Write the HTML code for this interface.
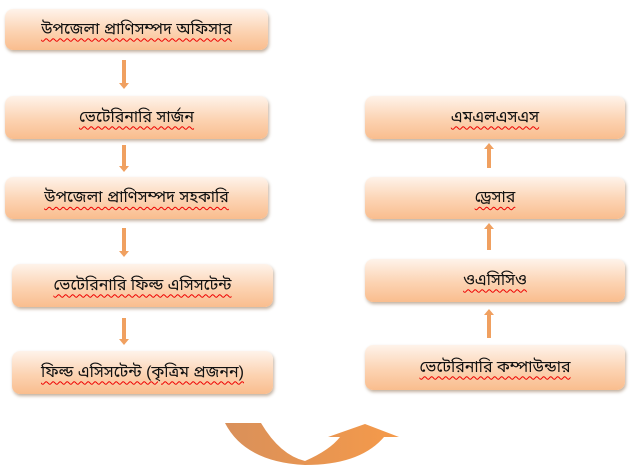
<!DOCTYPE html>
<html><head><meta charset="utf-8"><style>
body{margin:0;width:632px;height:472px;background:#fff;position:relative;overflow:hidden;font-family:"Liberation Sans","Noto Sans Bengali",sans-serif;}
.b{position:absolute;border-radius:8px;background:linear-gradient(180deg,#fef3ea 0%,#fcd3b2 55%,#f9bd8e 100%);box-shadow:1px 2px 3px rgba(120,80,40,.45);display:flex;align-items:center;justify-content:center;font-size:16px;color:#111;}
.b span{text-decoration:underline wavy #e00;text-decoration-thickness:1px;text-underline-offset:4px}
.a{position:absolute;width:4px;background:#f0a060}
.dn:after,.up:after{content:"";position:absolute;left:-3px;border-left:5px solid transparent;border-right:5px solid transparent}
.dn:after{bottom:-5px;border-top:6px solid #f0a060}
.up:after{top:-5px;border-bottom:6px solid #f0a060}
</style></head><body>
<div class="b" style="left:5px;top:9px;width:263px;height:41px"><span>উপজেলা প্রাণিসম্পদ অফিসার</span></div>
<div class="b" style="left:5px;top:96px;width:263px;height:43px"><span>ভেটেরিনারি সার্জন</span></div>
<div class="b" style="left:5px;top:177px;width:263px;height:42px"><span>উপজেলা প্রাণিসম্পদ সহকারি</span></div>
<div class="b" style="left:12px;top:264px;width:261px;height:43px"><span>ভেটেরিনারি ফিল্ড এসিসটেন্ট</span></div>
<div class="b" style="left:12px;top:351px;width:261px;height:43px"><span>ফিল্ড এসিসটেন্ট (কৃত্রিম প্রজনন)</span></div>
<div class="b" style="left:365px;top:96px;width:260px;height:43px"><span>এমএলএসএস</span></div>
<div class="b" style="left:365px;top:177px;width:260px;height:42px"><span>ড্রেসার</span></div>
<div class="b" style="left:365px;top:259px;width:260px;height:43px"><span>ওএসিসিও</span></div>
<div class="b" style="left:365px;top:345px;width:260px;height:45px"><span>ভেটেরিনারি কম্পাউন্ডার</span></div>
<div class="a dn" style="left:122px;top:60px;height:24px"></div>
<div class="a dn" style="left:122px;top:145px;height:22px"></div>
<div class="a dn" style="left:122px;top:228px;height:24px"></div>
<div class="a dn" style="left:122px;top:318px;height:22px"></div>
<div class="a up" style="left:487px;top:148px;height:20px"></div>
<div class="a up" style="left:487px;top:228px;height:22px"></div>
<div class="a up" style="left:487px;top:314px;height:24px"></div>
<svg style="position:absolute;left:0;top:0" width="632" height="472">
<defs><linearGradient id="g" x1="0" x2="1"><stop offset="0" stop-color="#d9905a"/><stop offset="1" stop-color="#f59a4a"/></linearGradient></defs>
<path d="M225 423 L261 423 Q280 455 305 461 Q330 450 340 437 L328 437 L365 424 L399 437 L384 437 Q360 465 305 465 Q245 462 225 423 Z" fill="url(#g)"/>
</svg>
</body></html>
